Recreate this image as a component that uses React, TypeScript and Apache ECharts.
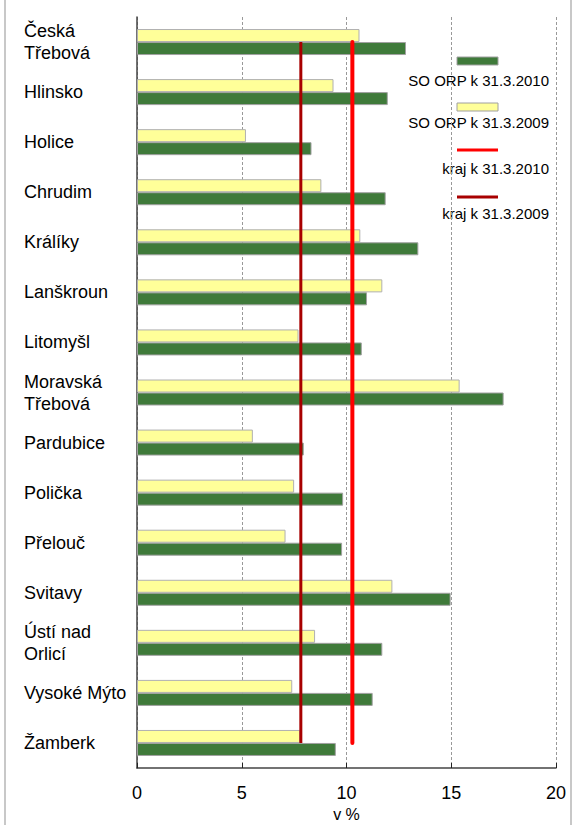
import React, { useEffect, useRef } from "react";
import * as echarts from "echarts";

const categories = [
  "Česká\nTřebová",
  "Hlinsko",
  "Holice",
  "Chrudim",
  "Králíky",
  "Lanškroun",
  "Litomyšl",
  "Moravská\nTřebová",
  "Pardubice",
  "Polička",
  "Přelouč",
  "Svitavy",
  "Ústí nad\nOrlicí",
  "Vysoké Mýto",
  "Žamberk",
];
const orp2009 = [10.62, 9.38, 5.2, 8.8, 10.66, 11.71, 7.71, 15.4, 5.53, 7.5, 7.09, 12.19, 8.5, 7.41, 7.79];
const orp2010 = [12.84, 11.97, 8.33, 11.87, 13.43, 10.98, 10.73, 17.5, 7.96, 9.84, 9.79, 14.97, 11.71, 11.25, 9.49];
const kraj2010Value = 10.28;
const kraj2009Value = 7.82;
const xTicks = [0, 5, 10, 15, 20];
const seriesNames = ["SO ORP k 31.3.2010", "SO ORP k 31.3.2009", "kraj k 31.3.2010", "kraj k 31.3.2009"];

const GREEN = "#3f7a3a";
const YELLOW = "#ffff99";
const RED = "#ff0000";
const DARKRED = "#a80000";
const FONT = "'Liberation Sans', Arial, sans-serif";

export default function App() {
  const ref = useRef<HTMLDivElement>(null);
  useEffect(() => {
    if (!ref.current) return;
    const chart = echarts.init(ref.current, undefined, { renderer: "svg" });
    const kraj2010 = categories.map(() => kraj2010Value);
    const kraj2009 = categories.map(() => kraj2009Value);
    const legendX = 457;
    const textRight = 549;
    chart.setOption({
      animation: false,
      textStyle: { fontFamily: FONT },
      grid: {
        left: 137,
        width: 419,
        top: 17,
        height: 751,
        containLabel: false,
        outerBoundsMode: "none",
      },
      xAxis: {
        type: "value",
        min: xTicks[0],
        max: xTicks[xTicks.length - 1],
        interval: 5,
        name: "v %",
        nameLocation: "middle",
        nameGap: 38,
        nameTextStyle: { fontSize: 16, color: "#000", fontFamily: FONT },
        axisLine: { show: true, lineStyle: { color: "#444", width: 1.5 } },
        axisTick: { show: true, inside: true, length: 5, lineStyle: { color: "#222" } },
        axisLabel: { fontSize: 18, color: "#000", margin: 16, fontFamily: FONT },
        splitLine: { show: true, lineStyle: { color: "#999", type: [3, 2], width: 1 } },
      },
      yAxis: {
        type: "category",
        data: categories,
        inverse: true,
        axisLine: { show: true, lineStyle: { color: "#444", width: 1.5 } },
        axisTick: { show: false },
        splitLine: { show: false },
        axisLabel: {
          fontSize: 18,
          color: "#000",
          align: "left",
          margin: 113,
          lineHeight: 22,
          fontFamily: FONT,
        },
      },
      series: [
        {
          name: seriesNames[1],
          type: "bar",
          data: orp2009,
          barWidth: 13,
          barGap: "0%",
          itemStyle: { color: YELLOW, borderColor: "#b0b0b0", borderWidth: 1 },
        },
        {
          name: seriesNames[0],
          type: "bar",
          data: orp2010,
          barWidth: 13,
          barGap: "0%",
          itemStyle: { color: GREEN, borderColor: "#a0a0a0", borderWidth: 1 },
        },
        {
          name: seriesNames[3],
          type: "line",
          data: kraj2009,
          symbol: "none",
          lineStyle: { color: DARKRED, width: 3, cap: "butt" },
          z: 5,
        },
        {
          name: seriesNames[2],
          type: "line",
          data: kraj2010,
          symbol: "none",
          lineStyle: { color: RED, width: 4, cap: "round" },
          z: 5,
        },
      ],
      graphic: [
        {
          type: "rect",
          shape: { x: 5, y: -20, width: 566, height: 870 },
          style: { fill: "none", stroke: "#c8c8c8", lineWidth: 2 },
          silent: true,
        },
        {
          type: "rect",
          shape: { x: legendX, y: 57, width: 41, height: 8 },
          style: { fill: GREEN, stroke: "#a0a0a0", lineWidth: 1 },
        },
        {
          type: "text",
          x: textRight,
          y: 80,
          style: { text: seriesNames[0], fill: "#000", font: `15px ${FONT}`, textAlign: "right", textVerticalAlign: "middle" },
        },
        {
          type: "rect",
          shape: { x: legendX, y: 103, width: 41, height: 8 },
          style: { fill: YELLOW, stroke: "#a0a0a0", lineWidth: 1 },
        },
        {
          type: "text",
          x: textRight,
          y: 122,
          style: { text: seriesNames[1], fill: "#000", font: `15px ${FONT}`, textAlign: "right", textVerticalAlign: "middle" },
        },
        {
          type: "line",
          shape: { x1: legendX, y1: 150, x2: legendX + 41, y2: 150 },
          style: { stroke: RED, lineWidth: 3 },
        },
        {
          type: "text",
          x: textRight,
          y: 168,
          style: { text: seriesNames[2], fill: "#000", font: `15px ${FONT}`, textAlign: "right", textVerticalAlign: "middle" },
        },
        {
          type: "line",
          shape: { x1: legendX, y1: 197, x2: legendX + 41, y2: 197 },
          style: { stroke: DARKRED, lineWidth: 3 },
        },
        {
          type: "text",
          x: textRight,
          y: 213,
          style: { text: seriesNames[3], fill: "#000", font: `15px ${FONT}`, textAlign: "right", textVerticalAlign: "middle" },
        },
      ],
    });
    return () => chart.dispose();
  }, []);
  return (
    <div
      ref={ref}
      style={{ position: "absolute", left: 0, top: 0, width: 575, height: 825, background: "#fff" }}
    />
  );
}
